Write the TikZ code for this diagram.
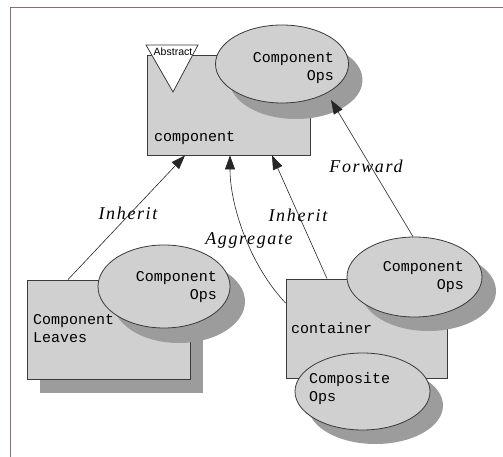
\documentclass[tikz,border=0pt]{standalone}
\usepackage{fontspec}
\setmainfont{Liberation Serif}
\newfontfamily\monofnt{Liberation Mono}
\newfontfamily\absfnt{Liberation Sans}
\usetikzlibrary{arrows.meta,shadows,calc,shapes.geometric}
\definecolor{boxfill}{HTML}{D0D0D0}
\definecolor{shadowgray}{HTML}{9C9C9C}
\definecolor{edgegray}{HTML}{3A3A3A}
\definecolor{framecol}{HTML}{8B6F6F}
\tikzset{
  classbox/.style={draw=edgegray, line width=0.8pt, fill=boxfill, rectangle, inner sep=0pt},
  opsell/.style={draw=edgegray, line width=0.8pt, fill=boxfill, ellipse, inner sep=0pt},
  shad/.style 2 args={drop shadow={shadow xshift=#1, shadow yshift=-#2, fill=shadowgray, opacity=1}},
  monotext/.style={font=\monofnt\fontsize{15}{18}\selectfont, inner sep=0pt},
  relabel/.style={font=\fontsize{18}{20}\selectfont\itshape\addfontfeatures{LetterSpace=9}, inner sep=0pt},
  conn/.style={draw=black!85, line width=0.6pt, -{Triangle[length=14pt,width=10pt]}},
}
\begin{document}
\begin{tikzpicture}[x=1pt,y=-1pt]
\useasboundingbox (0,0) rectangle (503,457);
\draw[framecol, line width=1pt] (10,457) -- (10,8) -- (503,8);

% component (top)
\node[classbox, minimum width=163pt, minimum height=100pt] (main) at (228.5,105) {};
\node[opsell, shad={14pt}{16pt}, minimum width=133pt, minimum height=78pt] (topops) at (282,64) {};
\draw[draw=edgegray, line width=0.8pt, fill=white] (146,45) -- (198,45) -- (173,92) -- cycle;
\node[font=\absfnt\fontsize{10.5}{12}\selectfont, inner sep=0pt] (abs) at (173,52) {Abstract};
\node[monotext, align=right, anchor=east] (toptxt) at (334,68) {Component\\Ops};
\node[monotext, anchor=west] (maintxt) at (154,138) {component};

% leaves
\node[classbox, shad={13pt}{14pt}, minimum width=163pt, minimum height=99pt] (leaves) at (108.5,329.5) {};
\node[opsell, shad={15pt}{15pt}, minimum width=132pt, minimum height=83pt] (leafops) at (164,286.5) {};
\node[monotext, align=right, anchor=east] (leafopstxt) at (217,287) {Component\\Ops};
\node[monotext, align=left, anchor=west] (leavestxt) at (33,329) {Component\\Leaves};

% container
\node[classbox, minimum width=161pt, minimum height=99pt] (cont) at (366.5,328.5) {};
\node[opsell, shad={14pt}{14pt}, minimum width=135pt, minimum height=80pt] (contops) at (414.5,277) {};
\node[monotext, align=right, anchor=east] (contopstxt) at (464,277.5) {Component\\Ops};
\node[monotext, anchor=west] (conttxt) at (291,328) {container};
\node[opsell, shad={13pt}{14pt}, minimum width=135pt, minimum height=77pt] (compops) at (362.5,391.5) {};
\node[monotext, align=left, anchor=west] (compopstxt) at (309,388.5) {Composite\\Ops};

% connectors
\draw[conn] ([xshift=-40.5pt]leaves.north) -- ([xshift=-43.5pt]main.south);
\draw[conn] ([yshift=25.5pt]cont.west) .. controls +(-36,-38) and +(0,50) .. ([xshift=1.5pt]main.south);
\draw[conn] ([xshift=-39.5pt]cont.north) -- ([xshift=43.5pt]main.south);
\draw[conn] ([xshift=-1.5pt]contops.north) -- ([xshift=49pt,yshift=-36pt]topops.center);

% labels
\node[relabel] (linh) at (128,213) {Inherit};
\node[relabel] (agg) at (249,240) {Aggregate};
\node[relabel] (rinh) at (298,215) {Inherit};
\node[relabel] (fwd) at (366,166) {Forward};
\end{tikzpicture}
\end{document}
